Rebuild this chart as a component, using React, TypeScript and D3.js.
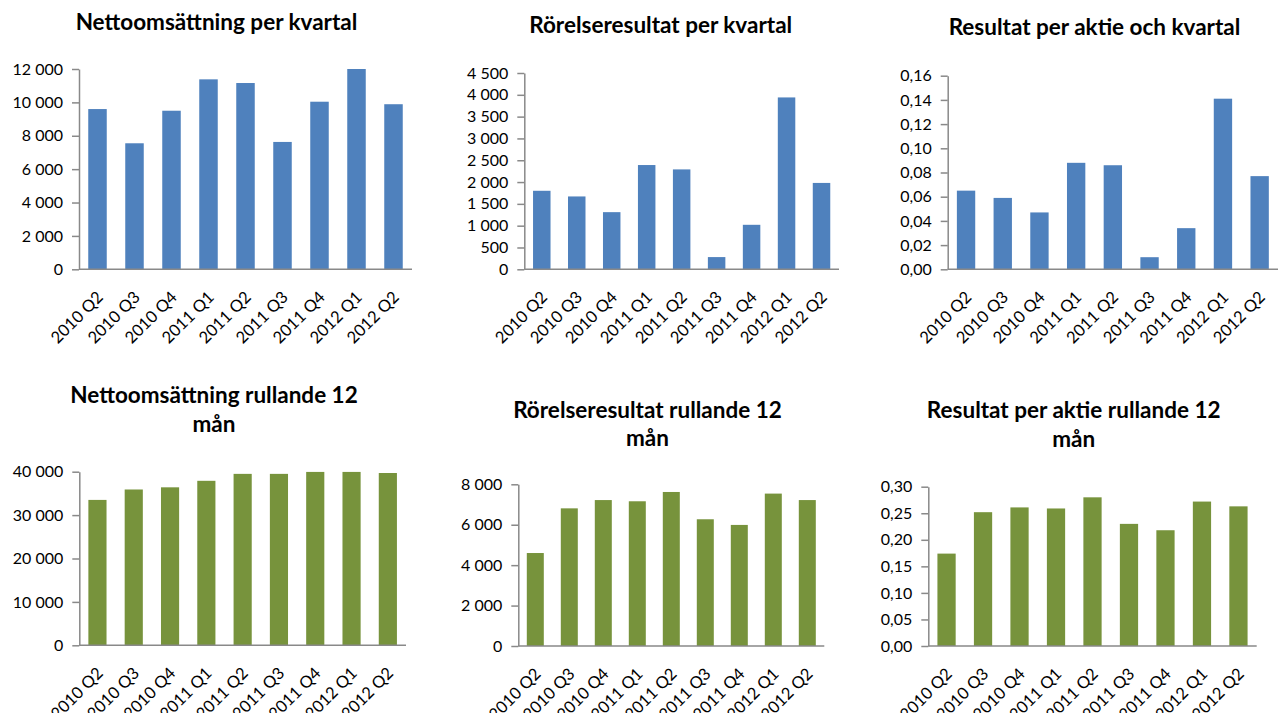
import React, { useEffect, useRef } from "react"
import * as d3 from "d3"

// Categories and values
const quarters = [
	"2010 Q2",
	"2010 Q3",
	"2010 Q4",
	"2011 Q1",
	"2011 Q2",
	"2011 Q3",
	"2011 Q4",
	"2012 Q1",
	"2012 Q2",
]
const nettoKvartal = [9600, 7550, 9500, 11380, 11160, 7630, 10040, 12000, 9890]
const rorelseKvartal = [1800, 1670, 1310, 2390, 2290, 280, 1020, 3940, 1980]
const aktieKvartal = [0.065, 0.059, 0.047, 0.088, 0.086, 0.01, 0.034, 0.141, 0.077]
const nettoRullande = [33500, 35900, 36400, 37900, 39500, 39500, 39950, 39950, 39700]
const rorelseRullande = [4600, 6810, 7220, 7160, 7620, 6270, 5990, 7540, 7220]
const aktieRullande = [0.174, 0.252, 0.261, 0.259, 0.28, 0.23, 0.218, 0.272, 0.263]

const titles = [
	["Nettoomsättning per kvartal"],
	["Rörelseresultat per kvartal"],
	["Resultat per aktie och kvartal"],
	["Nettoomsättning rullande 12", "mån"],
	["Rörelseresultat rullande 12", "mån"],
	["Resultat per aktie rullande 12", "mån"],
]
const yMax = [12000, 4500, 0.16, 40000, 8000, 0.3]
const yStep = [2000, 500, 0.02, 10000, 2000, 0.05]
const decimals = [0, 0, 2, 0, 0, 2]

const blue = "#4f81bd"
const green = "#77933c"
const axisGrey = "#898989"

// plot frames (axis positions) and title anchors for each panel
const frames = [
	{ left: 79, right: 412, top: 69, bottom: 269.3, tx: 216.5, ty: 29.5, color: blue },
	{ left: 524.3, right: 839, top: 73, bottom: 269.3, tx: 660.7, ty: 33.3, color: blue },
	{ left: 947.7, right: 1278, top: 75.7, bottom: 269.3, tx: 1094.5, ty: 35, color: blue },
	{ left: 79.3, right: 406, top: 471.7, bottom: 645.3, tx: 214, ty: 403.3, color: green },
	{ left: 518.3, right: 824.3, top: 484.3, bottom: 646, tx: 647.5, ty: 417.7, color: green },
	{ left: 928.3, right: 1256.7, top: 486.7, bottom: 646, tx: 1073.7, ty: 418.3, color: green },
]
const series = [nettoKvartal, rorelseKvartal, aktieKvartal, nettoRullande, rorelseRullande, aktieRullande]

const sv = d3.formatLocale({
	decimal: ",",
	thousands: " ",
	grouping: [3],
	currency: ["", " kr"],
})

const font = "Lato, 'Open Sans', sans-serif"

const App: React.FC = () => {
	const ref = useRef<SVGSVGElement>(null)

	useEffect(() => {
		document.body.style.margin = "0"
		const svg = d3.select(ref.current)
		svg.selectAll("*").remove()

		series.forEach((values, i) => {
			const f = frames[i]
			const g = svg.append("g").attr("class", "panel")

			const x = d3
				.scaleBand<string>()
				.domain(quarters)
				.range([f.left, f.right])
				.paddingInner(0.5)
				.paddingOuter(0.25)
			const y = d3.scaleLinear().domain([0, yMax[i]]).range([f.bottom, f.top])

			/* bars */
			g.selectAll(".bar")
				.data(values)
				.join("rect")
				.attr("class", "bar")
				.attr("x", (d, j) => x(quarters[j]) as number)
				.attr("width", x.bandwidth())
				.attr("y", (d) => y(d))
				.attr("height", (d) => y(0) - y(d))
				.attr("fill", f.color)

			/* y axis */
			const ticks = d3.range(0, yMax[i] + yStep[i] / 2, yStep[i])
			const fmt = decimals[i] ? sv.format(".2f") : sv.format(",.0f")
			const yAxis = d3
				.axisLeft(y)
				.tickValues(ticks)
				.tickFormat((d) => fmt(d as number))
				.tickSize(7)
				.tickSizeOuter(0)
				.tickPadding(9)
			const ya = g.append("g").attr("transform", `translate(${f.left},0)`).call(yAxis)
			ya.select(".domain").attr("stroke", axisGrey).attr("stroke-width", 1.5)
			ya.selectAll(".tick line").attr("stroke", axisGrey).attr("stroke-width", 1.5)
			ya.selectAll(".tick text")
				.attr("fill", "#000")
				.style("font-family", font)
				.style("font-size", "16px")

			/* x axis */
			g.append("line")
				.attr("x1", f.left)
				.attr("x2", f.right)
				.attr("y1", f.bottom)
				.attr("y2", f.bottom)
				.attr("stroke", axisGrey)
				.attr("stroke-width", 1.5)

			g.selectAll(".xlab")
				.data(quarters)
				.join("text")
				.attr("class", "xlab")
				.attr(
					"transform",
					(d) =>
						`translate(${(x(d) as number) + x.bandwidth() / 2 + 6.5},${f.bottom + 29}) rotate(-45)`
				)
				.attr("text-anchor", "end")
				.style("font-family", font)
				.style("font-size", "16.5px")
				.attr("fill", "#000")
				.text((d) => d)

			/* title */
			g.selectAll(".title")
				.data(titles[i])
				.join("text")
				.attr("class", "title")
				.attr("x", f.tx)
				.attr("y", (d, j) => f.ty + j * 28.5)
				.attr("text-anchor", "middle")
				.style("font-family", font)
				.style("font-weight", "bold")
				.style("font-size", "22.5px")
				.attr("fill", "#000")
				.text((d) => d)
		})
	}, [])

	return (
		<svg
			ref={ref}
			width={1284}
			height={713}
			style={{ position: "absolute", left: 0, top: 0, background: "#fff" }}
		/>
	)
}

export default App
